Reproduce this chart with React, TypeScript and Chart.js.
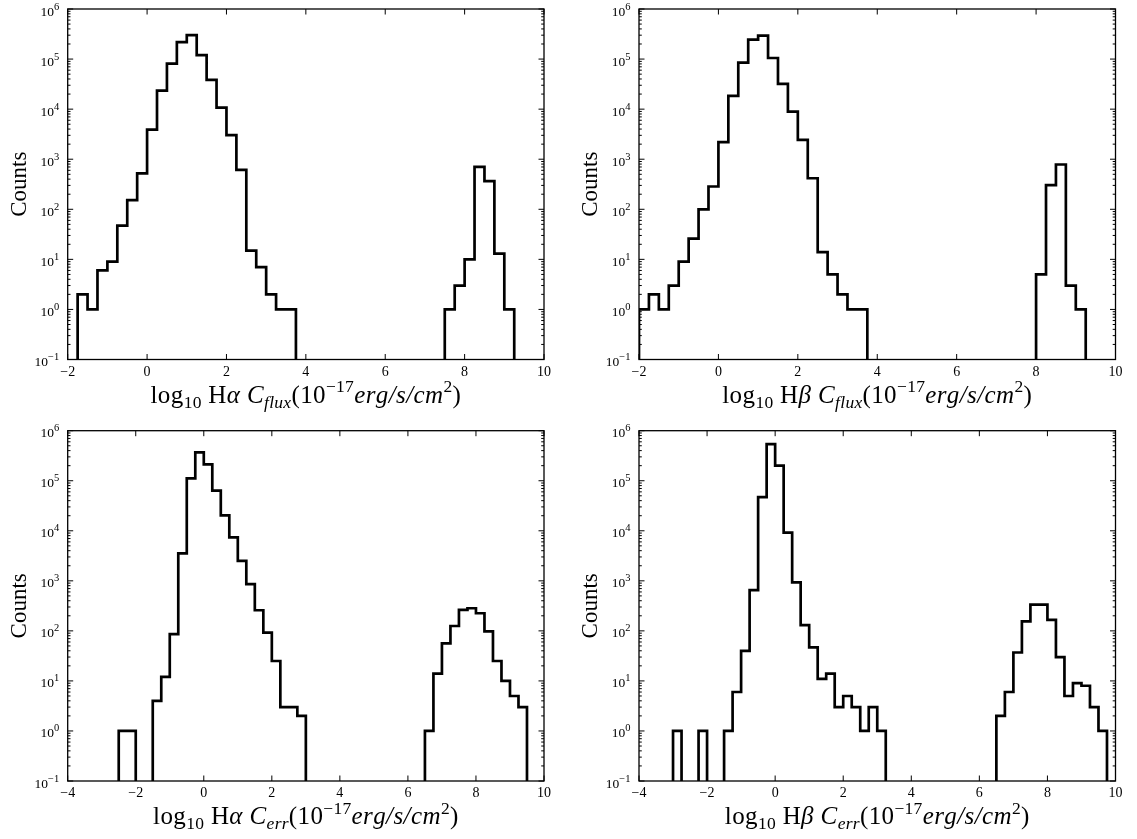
import React, { useEffect, useRef } from "react";
import { Chart, registerables } from "chart.js";

Chart.register(...registerables);

// ---------------- data ----------------
const BIN_WIDTH = 0.25;
const Y_MIN = 0.1;
const Y_MAX = 1000000;

// Hα C_flux histogram (bins of 0.25 starting at -1.75)
const haFluxStart = -1.75;
const haFluxCounts = [
  2, 1, 6, 9, 47, 152, 520, 3900, 23400, 81000, 218000, 300000, 120000, 38400,
  10700, 3020, 614, 15, 7, 2, 1, 1,
  0, 0, 0, 0, 0, 0, 0, 0, 0, 0, 0, 0, 0, 0, 0,
  1, 3, 10, 705, 364, 13, 1,
];

// Hβ C_flux histogram (bins starting at -2.0)
const hbFluxStart = -2.0;
const hbFluxCounts = [
  1, 2, 1, 3, 9, 26, 100, 285, 2190, 18400, 85000, 245000, 295000, 105000,
  32000, 8900, 2440, 417, 14, 5, 2, 1, 1,
  0, 0, 0, 0, 0, 0, 0, 0, 0, 0, 0, 0, 0, 0, 0, 0, 0,
  5, 303, 785, 3, 1,
];

// Hα C_err histogram (bins starting at -2.5)
const haErrStart = -2.5;
const haErrCounts = [
  1, 1, 0, 0, 4, 12, 86, 3550, 112000, 370000, 213000, 63500, 20400, 7400,
  2500, 860, 258, 92, 25, 3, 3, 2,
  0, 0, 0, 0, 0, 0, 0, 0, 0, 0, 0, 0, 0, 0,
  1, 14, 56, 125, 262, 283, 225, 98, 25, 10, 5, 3,
];

// Hβ C_err histogram (bins starting at -3.0)
const hbErrStart = -3.0;
const hbErrCounts = [
  1, 0, 0, 1, 0, 0, 1, 6, 40, 650, 47000, 537000, 200000, 9200, 935, 130, 47,
  11, 14, 3, 5, 3, 1, 3, 1,
  0, 0, 0, 0, 0, 0, 0, 0, 0, 0, 0, 0, 0,
  2, 6, 37, 155, 335, 335, 166, 30, 5, 9, 8, 3, 1,
];

const fluxXTicks = [-2, 0, 2, 4, 6, 8, 10];
const errXTicks = [-4, -2, 0, 2, 4, 6, 8, 10];
const yTickValues = [0.1, 1, 10, 100, 1000, 10000, 100000, 1000000];
const yTickExponents = ["−1", "0", "1", "2", "3", "4", "5", "6"];
const Y_LABEL = "Counts";

type Run = { t: string; it?: boolean; pos?: "sub" | "sup" };

const titleHaFlux: Run[] = [
  { t: "log" }, { t: "10", pos: "sub" }, { t: " H" }, { t: "α", it: true }, { t: " " },
  { t: "C", it: true }, { t: "flux", it: true, pos: "sub" }, { t: "(10" },
  { t: "−17", pos: "sup" }, { t: "erg/s/cm", it: true }, { t: "2", pos: "sup" }, { t: ")" },
];
const titleHbFlux: Run[] = [
  { t: "log" }, { t: "10", pos: "sub" }, { t: " H" }, { t: "β", it: true }, { t: " " },
  { t: "C", it: true }, { t: "flux", it: true, pos: "sub" }, { t: "(10" },
  { t: "−17", pos: "sup" }, { t: "erg/s/cm", it: true }, { t: "2", pos: "sup" }, { t: ")" },
];
const titleHaErr: Run[] = [
  { t: "log" }, { t: "10", pos: "sub" }, { t: " H" }, { t: "α", it: true }, { t: " " },
  { t: "C", it: true }, { t: "err", it: true, pos: "sub" }, { t: "(10" },
  { t: "−17", pos: "sup" }, { t: "erg/s/cm", it: true }, { t: "2", pos: "sup" }, { t: ")" },
];
const titleHbErr: Run[] = [
  { t: "log" }, { t: "10", pos: "sub" }, { t: " H" }, { t: "β", it: true }, { t: " " },
  { t: "C", it: true }, { t: "err", it: true, pos: "sub" }, { t: "(10" },
  { t: "−17", pos: "sup" }, { t: "erg/s/cm", it: true }, { t: "2", pos: "sup" }, { t: ")" },
];

// ---------------- styling ----------------
const FONT = '"Liberation Serif", "DejaVu Serif", serif';
const TITLE_SIZE = 25;
const TITLE_SPACING = 0.4;
const TICK_SIZE = 14;
const YTICK_SIZE = 13.5;
const SUP_SIZE = 10.5;

// step outline with explicit corners; empty bins sit on the axis floor (not stroked)
function histPoints(start: number, counts: number[]) {
  const pts: { x: number; y: number }[] = [{ x: start, y: Y_MIN }];
  counts.forEach((c, i) => {
    const y = Math.max(c, Y_MIN);
    pts.push({ x: start + i * BIN_WIDTH, y });
    pts.push({ x: start + (i + 1) * BIN_WIDTH, y });
  });
  pts.push({ x: start + counts.length * BIN_WIDTH, y: Y_MIN });
  return pts;
}

function fmtTick(v: number) {
  return v < 0 ? "−" + Math.abs(v) : String(v);
}

function drawRuns(ctx: CanvasRenderingContext2D, runs: Run[], cx: number, baseline: number, size: number) {
  const small = size * 0.7;
  const fontOf = (r: Run) => `${r.it ? "italic " : ""}${r.pos ? small : size}px ${FONT}`;
  const chars: { c: string; r: Run; w: number }[] = [];
  runs.forEach((r) => {
    ctx.font = fontOf(r);
    for (const c of Array.from(r.t)) {
      chars.push({ c, r, w: ctx.measureText(c).width + TITLE_SPACING * (r.pos ? 0.7 : 1) });
    }
  });
  const total = chars.reduce((a, b) => a + b.w, 0);
  let x = cx - total / 2;
  ctx.textAlign = "left";
  ctx.textBaseline = "alphabetic";
  chars.forEach((ch) => {
    ctx.font = fontOf(ch.r);
    const dy = ch.r.pos === "sub" ? size * 0.2 : ch.r.pos === "sup" ? -size * 0.42 : 0;
    ctx.fillText(ch.c, x, baseline + dy);
    x += ch.w;
  });
}

const mplAxes = {
  id: "mplAxes",
  afterDatasetsDraw(chart: any, _args: any, opts: any) {
    const ctx: CanvasRenderingContext2D = chart.ctx;
    const { left, right, top, bottom } = chart.chartArea;
    const xs = chart.scales.x;
    const ys = chart.scales.y;
    ctx.save();
    ctx.strokeStyle = "#000";
    ctx.fillStyle = "#000";

    // ticks
    ctx.lineWidth = 1;
    const MAJ = 5.5;
    const MIN = 2.8;
    ctx.beginPath();
    (opts.xTicks as number[]).forEach((v) => {
      const px = xs.getPixelForValue(v);
      ctx.moveTo(px, bottom);
      ctx.lineTo(px, bottom - MAJ);
      ctx.moveTo(px, top);
      ctx.lineTo(px, top + MAJ);
    });
    yTickValues.forEach((v, i) => {
      const py = ys.getPixelForValue(v);
      ctx.moveTo(left, py);
      ctx.lineTo(left + MAJ, py);
      ctx.moveTo(right, py);
      ctx.lineTo(right - MAJ, py);
      if (i < yTickValues.length - 1) {
        for (let m = 2; m <= 9; m++) {
          const pm = ys.getPixelForValue(v * m);
          ctx.moveTo(left, pm);
          ctx.lineTo(left + MIN, pm);
          ctx.moveTo(right, pm);
          ctx.lineTo(right - MIN, pm);
        }
      }
    });
    ctx.stroke();

    // frame
    ctx.lineWidth = 1.3;
    ctx.strokeRect(left, top, right - left, bottom - top);

    // x tick labels
    ctx.font = `${TICK_SIZE}px ${FONT}`;
    ctx.textAlign = "center";
    ctx.textBaseline = "alphabetic";
    (opts.xTicks as number[]).forEach((v) => {
      ctx.fillText(fmtTick(v), xs.getPixelForValue(v), bottom + 16);
    });

    // y tick labels 10^n
    yTickValues.forEach((v, i) => {
      const py = ys.getPixelForValue(v);
      ctx.font = `${SUP_SIZE}px ${FONT}`;
      const wSup = ctx.measureText(yTickExponents[i]).width;
      ctx.font = `${YTICK_SIZE}px ${FONT}`;
      const wBase = ctx.measureText("10").width;
      const xEnd = left - 8.5;
      ctx.textAlign = "left";
      ctx.fillText("10", xEnd - wSup - wBase, py + 6.5);
      ctx.font = `${SUP_SIZE}px ${FONT}`;
      ctx.fillText(yTickExponents[i], xEnd - wSup, py + 0.5);
    });

    // y title
    ctx.save();
    ctx.translate(left - 42, (top + bottom) / 2);
    ctx.rotate(-Math.PI / 2);
    ctx.font = `23px ${FONT}`;
    ctx.textAlign = "center";
    ctx.textBaseline = "alphabetic";
    ctx.fillText(Y_LABEL, 0, 0);
    ctx.restore();

    // x title
    drawRuns(ctx, opts.title as Run[], (left + right) / 2, bottom + 43, TITLE_SIZE);
    ctx.restore();
  },
};

type PanelProps = {
  left: number;
  top: number;
  width: number;
  height: number;
  pad: { left: number; right: number; top: number; bottom: number };
  start: number;
  counts: number[];
  xMin: number;
  xMax: number;
  xTicks: number[];
  title: Run[];
};

function Panel(p: PanelProps) {
  const ref = useRef<HTMLCanvasElement | null>(null);
  useEffect(() => {
    if (!ref.current) return;
    const chart = new Chart(ref.current, {
      type: "line",
      data: {
        datasets: [
          {
            data: histPoints(p.start, p.counts),
            borderColor: "#000",
            borderWidth: 2.7,
            pointRadius: 0,
            fill: false,
            clip: 0,
            tension: 0,
            borderJoinStyle: "miter",
            segment: {
              borderColor: (c: any) =>
                c.p0.parsed.y <= Y_MIN && c.p1.parsed.y <= Y_MIN ? "rgba(0,0,0,0)" : "#000",
            },
          } as any,
        ],
      },
      options: {
        responsive: false,
        animation: false,
        events: [],
        layout: { padding: p.pad },
        scales: {
          x: { type: "linear", min: p.xMin, max: p.xMax, display: false },
          y: { type: "logarithmic", min: Y_MIN, max: Y_MAX, display: false },
        },
        plugins: {
          legend: { display: false },
          tooltip: { enabled: false },
          mplAxes: { xTicks: p.xTicks, title: p.title },
        } as any,
      },
      plugins: [mplAxes],
    });
    return () => chart.destroy();
  }, []);
  return (
    <canvas
      ref={ref}
      width={p.width}
      height={p.height}
      style={{ position: "absolute", left: p.left, top: p.top, width: p.width, height: p.height }}
    />
  );
}

export default function App() {
  const padTop = { top: 9, bottom: 60.5 };
  const padBot = { top: 10.7, bottom: 58 };
  return (
    <div style={{ position: "fixed", left: 0, top: 0, width: 1137, height: 839, background: "#fff" }}>
      <Panel left={0} top={0} width={570} height={420}
        pad={{ left: 67.7, right: 26, ...padTop }}
        start={haFluxStart} counts={haFluxCounts} xMin={-2} xMax={10} xTicks={fluxXTicks} title={titleHaFlux} />
      <Panel left={570} top={0} width={567} height={420}
        pad={{ left: 69, right: 21.5, ...padTop }}
        start={hbFluxStart} counts={hbFluxCounts} xMin={-2} xMax={10} xTicks={fluxXTicks} title={titleHbFlux} />
      <Panel left={0} top={420} width={570} height={419}
        pad={{ left: 67.7, right: 26, ...padBot }}
        start={haErrStart} counts={haErrCounts} xMin={-4} xMax={10} xTicks={errXTicks} title={titleHaErr} />
      <Panel left={570} top={420} width={567} height={419}
        pad={{ left: 69, right: 21.5, ...padBot }}
        start={hbErrStart} counts={hbErrCounts} xMin={-4} xMax={10} xTicks={errXTicks} title={titleHbErr} />
    </div>
  );
}
